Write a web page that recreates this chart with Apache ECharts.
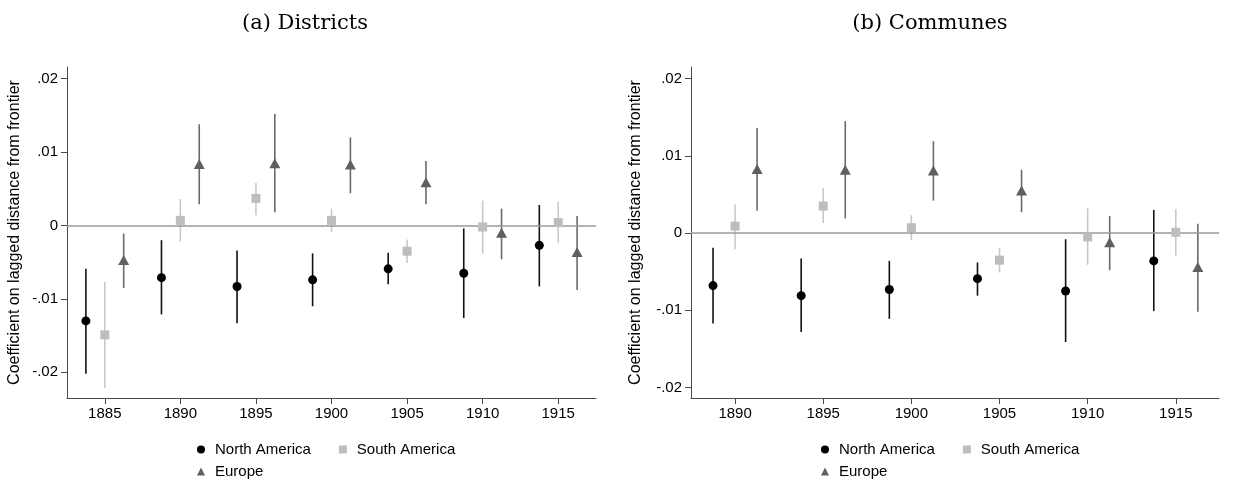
<!DOCTYPE html>
<html>
<head>
<meta charset="utf-8">
<script src="https://cdn.jsdelivr.net/npm/echarts@6/dist/echarts.min.js"></script>
<style>
  html, body { margin: 0; padding: 0; background: #fff; }
  #chart { width: 1233px; height: 501px; }
</style>
</head>
<body>
<div id="chart"></div>
<script>
// Panel (a): districts
const yearsA = [1885, 1890, 1895, 1900, 1905, 1910, 1915];
const naA    = [-0.0130, -0.0071, -0.0083, -0.0074, -0.0059, -0.0065, -0.0027];
const naLoA  = [-0.0202, -0.0121, -0.0133, -0.0110, -0.0080, -0.0126, -0.0083];
const naHiA  = [-0.0059, -0.0020, -0.0034, -0.0038, -0.0037, -0.0004,  0.0028];
const saA    = [-0.0149,  0.0007,  0.0037,  0.0007, -0.0035, -0.0002,  0.0004];
const saLoA  = [-0.0221, -0.0022,  0.0014, -0.0009, -0.0051, -0.0038, -0.0024];
const saHiA  = [-0.0077,  0.0036,  0.0058,  0.0023, -0.0019,  0.0034,  0.0032];
const euA    = [-0.0047,  0.0084,  0.0085,  0.0083,  0.0059, -0.0010, -0.0036];
const euLoA  = [-0.0085,  0.0029,  0.0018,  0.0044,  0.0029, -0.0046, -0.0088];
const euHiA  = [-0.0011,  0.0138,  0.0152,  0.0120,  0.0088,  0.0023,  0.0013];

// Panel (b): communes
const yearsB = [1890, 1895, 1900, 1905, 1910, 1915];
const naB    = [-0.0068, -0.0081, -0.0073, -0.0059, -0.0075, -0.0036];
const naLoB  = [-0.0117, -0.0128, -0.0111, -0.0081, -0.0141, -0.0101];
const naHiB  = [-0.0019, -0.0033, -0.0036, -0.0038, -0.0008,  0.0030];
const saB    = [ 0.0009,  0.0035,  0.0007, -0.0035, -0.0005,  0.0001];
const saLoB  = [-0.0021,  0.0013, -0.0009, -0.0051, -0.0041, -0.0029];
const saHiB  = [ 0.0037,  0.0058,  0.0023, -0.0019,  0.0032,  0.0031];
const euB    = [ 0.0083,  0.0082,  0.0081,  0.0055, -0.0012, -0.0044];
const euLoB  = [ 0.0029,  0.0019,  0.0042,  0.0027, -0.0048, -0.0102];
const euHiB  = [ 0.0136,  0.0145,  0.0119,  0.0082,  0.0022,  0.0012];

// Axis ticks and labels
const xTicksA = [1885, 1890, 1895, 1900, 1905, 1910, 1915];
const xTicksB = [1890, 1895, 1900, 1905, 1910, 1915];
const yTicks = [-0.02, -0.01, 0, 0.01, 0.02];
const yTickText = ['-.02', '-.01', '0', '.01', '.02'];

const titles = ['(a) Districts', '(b) Communes'];
const yName = 'Coefficient on lagged distance from frontier';
const groupNames = ['North America', 'South America', 'Europe'];

// Groups are dodged horizontally around each year
const dodge = [-1.25, 0, 1.25];

const markerColor = ['#000000', '#bdbdbd', '#5f5f5f'];
const barColor = ['#111111', '#c8c8c8', '#6a6a6a'];
const symbols = ['circle', 'rect', 'triangle'];
const symbolSizes = [9, 9, [11, 10]];

const FONT = 'Liberation Sans, Arial, Helvetica, sans-serif';

function yLabel(v) {
  for (let i = 0; i < yTicks.length; i++) {
    if (Math.abs(yTicks[i] - v) < 1e-9) return yTickText[i];
  }
  return '';
}

function errorBars(name, idx, years, lo, hi, g, extra) {
  return Object.assign({
    type: 'custom',
    name: name + ' CI',
    xAxisIndex: idx, yAxisIndex: idx,
    z: 3,
    silent: true,
    encode: { x: 0, y: [1, 2] },
    data: years.map((y, i) => [y + dodge[g], lo[i], hi[i]]),
    renderItem: function (params, api) {
      const x = api.value(0);
      const p1 = api.coord([x, api.value(1)]);
      const p2 = api.coord([x, api.value(2)]);
      return {
        type: 'line',
        shape: { x1: p1[0], y1: p1[1], x2: p2[0], y2: p2[1] },
        style: { stroke: barColor[g], lineWidth: 1.6 }
      };
    }
  }, extra || {});
}

function points(name, idx, years, vals, g) {
  return {
    type: 'scatter',
    name: name,
    xAxisIndex: idx, yAxisIndex: idx,
    z: 5,
    symbol: symbols[g],
    symbolSize: symbolSizes[g],
    itemStyle: { color: markerColor[g], opacity: 1 },
    emphasis: { disabled: true },
    data: years.map((y, i) => [y + dodge[g], vals[i]])
  };
}

const zeroLine = {
  markLine: {
    silent: true,
    symbol: 'none',
    label: { show: false },
    lineStyle: { color: '#9a9a9a', width: 1.5, type: 'solid' },
    data: [{ yAxis: 0 }]
  },
  z: 2
};

function xAxis(idx, min, max, ticks) {
  return {
    type: 'value', gridIndex: idx, min: min, max: max,
    axisLine: { show: true, onZero: false, lineStyle: { color: '#4a4a4a', width: 1 } },
    axisTick: { show: true, length: 6, customValues: ticks, lineStyle: { color: '#4a4a4a' } },
    axisLabel: { customValues: ticks, margin: 8, color: '#000', fontSize: 15, fontFamily: FONT,
                 formatter: v => String(v) },
    splitLine: { show: false }
  };
}

function yAxis(idx, min, max, gap) {
  return {
    type: 'value', gridIndex: idx, min: min, max: max,
    name: yName, nameLocation: 'middle', nameGap: gap, nameRotate: 90,
    nameTextStyle: { color: '#000', fontSize: 16, fontFamily: FONT },
    axisLine: { show: true, onZero: false, lineStyle: { color: '#4a4a4a', width: 1 } },
    axisTick: { show: true, length: 6, customValues: yTicks, lineStyle: { color: '#4a4a4a' } },
    axisLabel: { customValues: yTicks, margin: 9, color: '#000', fontSize: 15, fontFamily: FONT,
                 formatter: yLabel },
    splitLine: { show: false }
  };
}

function legendRow(left, top, names) {
  return {
    left: left, top: top,
    orient: 'horizontal',
    itemWidth: 8, itemHeight: 8, itemGap: 28,
    selectedMode: false,
    textStyle: { color: '#000', fontSize: 15, fontFamily: FONT, padding: [0, 0, 0, 5] },
    data: names
  };
}

const option = {
  backgroundColor: '#ffffff',
  animation: false,
  title: [
    { text: titles[0], left: 300, top: 8, textAlign: 'center',
      textStyle: { fontFamily: 'DejaVu Serif, serif', fontWeight: 'normal', fontSize: 21, color: '#000' } },
    { text: titles[1], left: 925, top: 8, textAlign: 'center',
      textStyle: { fontFamily: 'DejaVu Serif, serif', fontWeight: 'normal', fontSize: 21, color: '#000' } }
  ],
  grid: [
    { left: 67, top: 67, width: 529, height: 331 },
    { left: 691, top: 67, width: 528, height: 331 }
  ],
  xAxis: [
    xAxis(0, 1882.5, 1917.5, xTicksA),
    xAxis(1, 1887.5, 1917.45, xTicksB)
  ],
  yAxis: [
    yAxis(0, -0.0235, 0.0216, 44),
    yAxis(1, -0.02135, 0.0215, 47)
  ],
  legend: [
    legendRow(192, 437, [groupNames[0], groupNames[1]]),
    legendRow(192, 459, [groupNames[2]]),
    legendRow(816, 437, [groupNames[0], groupNames[1]]),
    legendRow(816, 459, [groupNames[2]])
  ],
  series: [
    errorBars(groupNames[1], 0, yearsA, saLoA, saHiA, 1, zeroLine),
    errorBars(groupNames[0], 0, yearsA, naLoA, naHiA, 0),
    errorBars(groupNames[2], 0, yearsA, euLoA, euHiA, 2),
    points(groupNames[0], 0, yearsA, naA, 0),
    points(groupNames[1], 0, yearsA, saA, 1),
    points(groupNames[2], 0, yearsA, euA, 2),

    errorBars(groupNames[1], 1, yearsB, saLoB, saHiB, 1, zeroLine),
    errorBars(groupNames[0], 1, yearsB, naLoB, naHiB, 0),
    errorBars(groupNames[2], 1, yearsB, euLoB, euHiB, 2),
    points(groupNames[0], 1, yearsB, naB, 0),
    points(groupNames[1], 1, yearsB, saB, 1),
    points(groupNames[2], 1, yearsB, euB, 2)
  ]
};

const chart = echarts.init(document.getElementById('chart'), null, { renderer: 'canvas' });
chart.setOption(option);
</script>
</body>
</html>
